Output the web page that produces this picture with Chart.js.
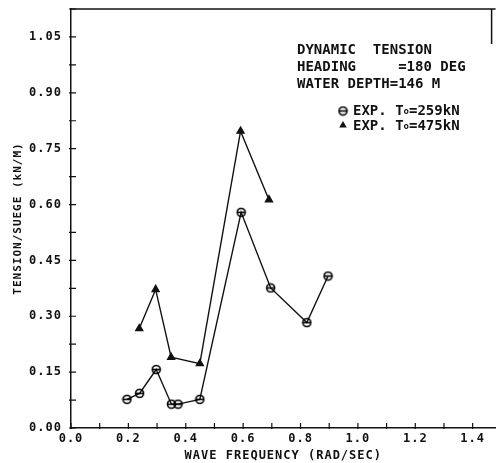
<!DOCTYPE html>
<html>
<head>
<meta charset="utf-8">
<script src="https://cdn.jsdelivr.net/npm/chart.js@4"></script>
<style>
    body { margin: 0; background: #fff; }
    .wrap { position: relative; width: 496px; height: 463px; overflow: hidden; }
    .note {
        position: absolute; color: #111; white-space: pre;
        font: bold 14px 'DejaVu Sans Mono', monospace;
    }
    .note small { font-size: 9px; vertical-align: 1px; }
</style>
</head>
<body>
<div class="wrap">
    <canvas id="chart" width="502" height="463"></canvas>
    <div class="note" style="left:297px; top:41px; line-height:17px;">DYNAMIC  TENSION
HEADING     =180 DEG
WATER DEPTH=146 M</div>
    <div class="note" style="left:353px; top:103px; line-height:14px;">EXP. T<small>o</small>=259kN
EXP. T<small>o</small>=475kN</div>
</div>

<script>
// Datos
const freqA = [0.195, 0.239, 0.297, 0.350, 0.373, 0.449, 0.593, 0.696, 0.822, 0.896];
const tensA = [0.077, 0.093, 0.157, 0.064, 0.064, 0.077, 0.579, 0.376, 0.283, 0.408];
const freqB = [0.238, 0.295, 0.349, 0.449, 0.591, 0.690];
const tensB = [0.267, 0.372, 0.190, 0.173, 0.797, 0.613];

const xTickLabels = ['0.0', '0.2', '0.4', '0.6', '0.8', '1.0', '1.2', '1.4'];
const yTickLabels = ['0.00', '0.15', '0.30', '0.45', '0.60', '0.75', '0.90', '1.05'];

const FONT = "'DejaVu Sans Mono', monospace";

// marcador: circulo con raya
function circleMark() {
    const c = document.createElement('canvas');
    c.width = c.height = 11;
    const g = c.getContext('2d');
    g.strokeStyle = '#000';
    g.lineWidth = 1.6;
    g.beginPath(); g.arc(5.5, 5.5, 4, 0, Math.PI * 2); g.stroke();
    g.beginPath(); g.moveTo(2, 5.5); g.lineTo(9, 5.5); g.stroke();
    return c;
}
const mark = circleMark();

function triangle(ctx, x, y, r) {
    ctx.beginPath();
    ctx.moveTo(x, y - r);
    ctx.lineTo(x + r * 0.95, y + r * 0.6);
    ctx.lineTo(x - r * 0.95, y + r * 0.6);
    ctx.closePath();
    ctx.fill();
}

const framePlugin = {
    id: 'frame',
    beforeDraw(chart) {
        chart.ctx.letterSpacing = '1px';
    },
    afterDraw(chart) {
        const { ctx, chartArea: a, scales: { x, y } } = chart;
        ctx.save();
        ctx.letterSpacing = '0px';
        ctx.strokeStyle = '#111';
        ctx.lineWidth = 1.5;
        // borde superior y trozo derecho
        ctx.beginPath();
        ctx.moveTo(a.left, a.top); ctx.lineTo(a.right, a.top);
        ctx.moveTo(a.right - 4, a.top); ctx.lineTo(a.right - 4, a.top + 35);
        ctx.stroke();
        // marcas hacia dentro
        ctx.lineWidth = 1.2;
        ctx.beginPath();
        y.ticks.forEach(t => {
            const py = y.getPixelForValue(t.value);
            ctx.moveTo(a.left - 2, py); ctx.lineTo(a.left + 5, py);
        });
        x.ticks.forEach(t => {
            const px = x.getPixelForValue(t.value);
            ctx.moveTo(px, a.bottom + 1); ctx.lineTo(px, a.bottom - 5);
        });
        ctx.stroke();
        // leyenda
        ctx.drawImage(mark, 343 - 5.5, 111 - 5.5);
        ctx.fillStyle = '#111';
        triangle(ctx, 343, 125, 4);
        ctx.restore();
    }
};

const toPts = (xs, ys) => xs.map((v, i) => ({ x: v, y: ys[i] }));

new Chart(document.getElementById('chart'), {
    type: 'scatter',
    data: {
        datasets: [
            {
                label: 'EXP. To=259kN',
                data: toPts(freqA, tensA),
                showLine: true,
                borderColor: '#111',
                borderWidth: 1.4,
                pointStyle: mark,
                pointRadius: 5
            },
            {
                label: 'EXP. To=475kN',
                data: toPts(freqB, tensB),
                showLine: true,
                borderColor: '#111',
                backgroundColor: '#111',
                borderWidth: 1.4,
                pointStyle: 'triangle',
                pointRadius: 4
            }
        ]
    },
    options: {
        responsive: false,
        animation: false,
        events: [],
        layout: { padding: { top: 9, right: 0, left: 0, bottom: 0 } },
        plugins: { legend: { display: false }, tooltip: { enabled: false } },
        scales: {
            x: {
                type: 'linear',
                min: 0, max: 1.48,
                grid: { display: false, drawTicks: false },
                border: { display: true, color: '#111', width: 1.5 },
                ticks: {
                    stepSize: 0.1,
                    includeBounds: false,
                    autoSkip: false,
                    maxRotation: 0,
                    padding: 4,
                    color: '#111',
                    font: { family: FONT, size: 12, weight: 'bold' },
                    callback: v => {
                        const i = Math.round(v * 10);
                        return i % 2 === 0 ? (xTickLabels[i / 2] || '') : '';
                    }
                },
                title: {
                    display: true,
                    text: 'WAVE FREQUENCY (RAD/SEC)',
                    color: '#111',
                    font: { family: FONT, size: 12, weight: 'bold' },
                    padding: { top: 6, bottom: 0 }
                },
                afterFit: s => {
                    s.height = 35;
                    s.paddingLeft = 0; s.paddingRight = 0;
                }
            },
            y: {
                min: 0, max: 1.125,
                grid: { display: false, drawTicks: false },
                border: { display: true, color: '#111', width: 1.5 },
                ticks: {
                    stepSize: 0.075,
                    autoSkip: false,
                    padding: 9,
                    color: '#111',
                    font: { family: FONT, size: 12, weight: 'bold' },
                    callback: v => {
                        const i = Math.round(v / 0.075);
                        return i % 2 === 0 ? (yTickLabels[i / 2] || '') : '';
                    }
                },
                title: {
                    display: true,
                    text: 'TENSION/SUEGE (kN/M)',
                    color: '#111',
                    font: { family: FONT, size: 11, weight: 'bold' },
                    padding: { top: 12, bottom: 0 }
                },
                afterFit: s => {
                    s.width = 71;
                    s.paddingTop = 0; s.paddingBottom = 0;
                }
            }
        }
    },
    plugins: [framePlugin]
});
</script>
</body>
</html>
